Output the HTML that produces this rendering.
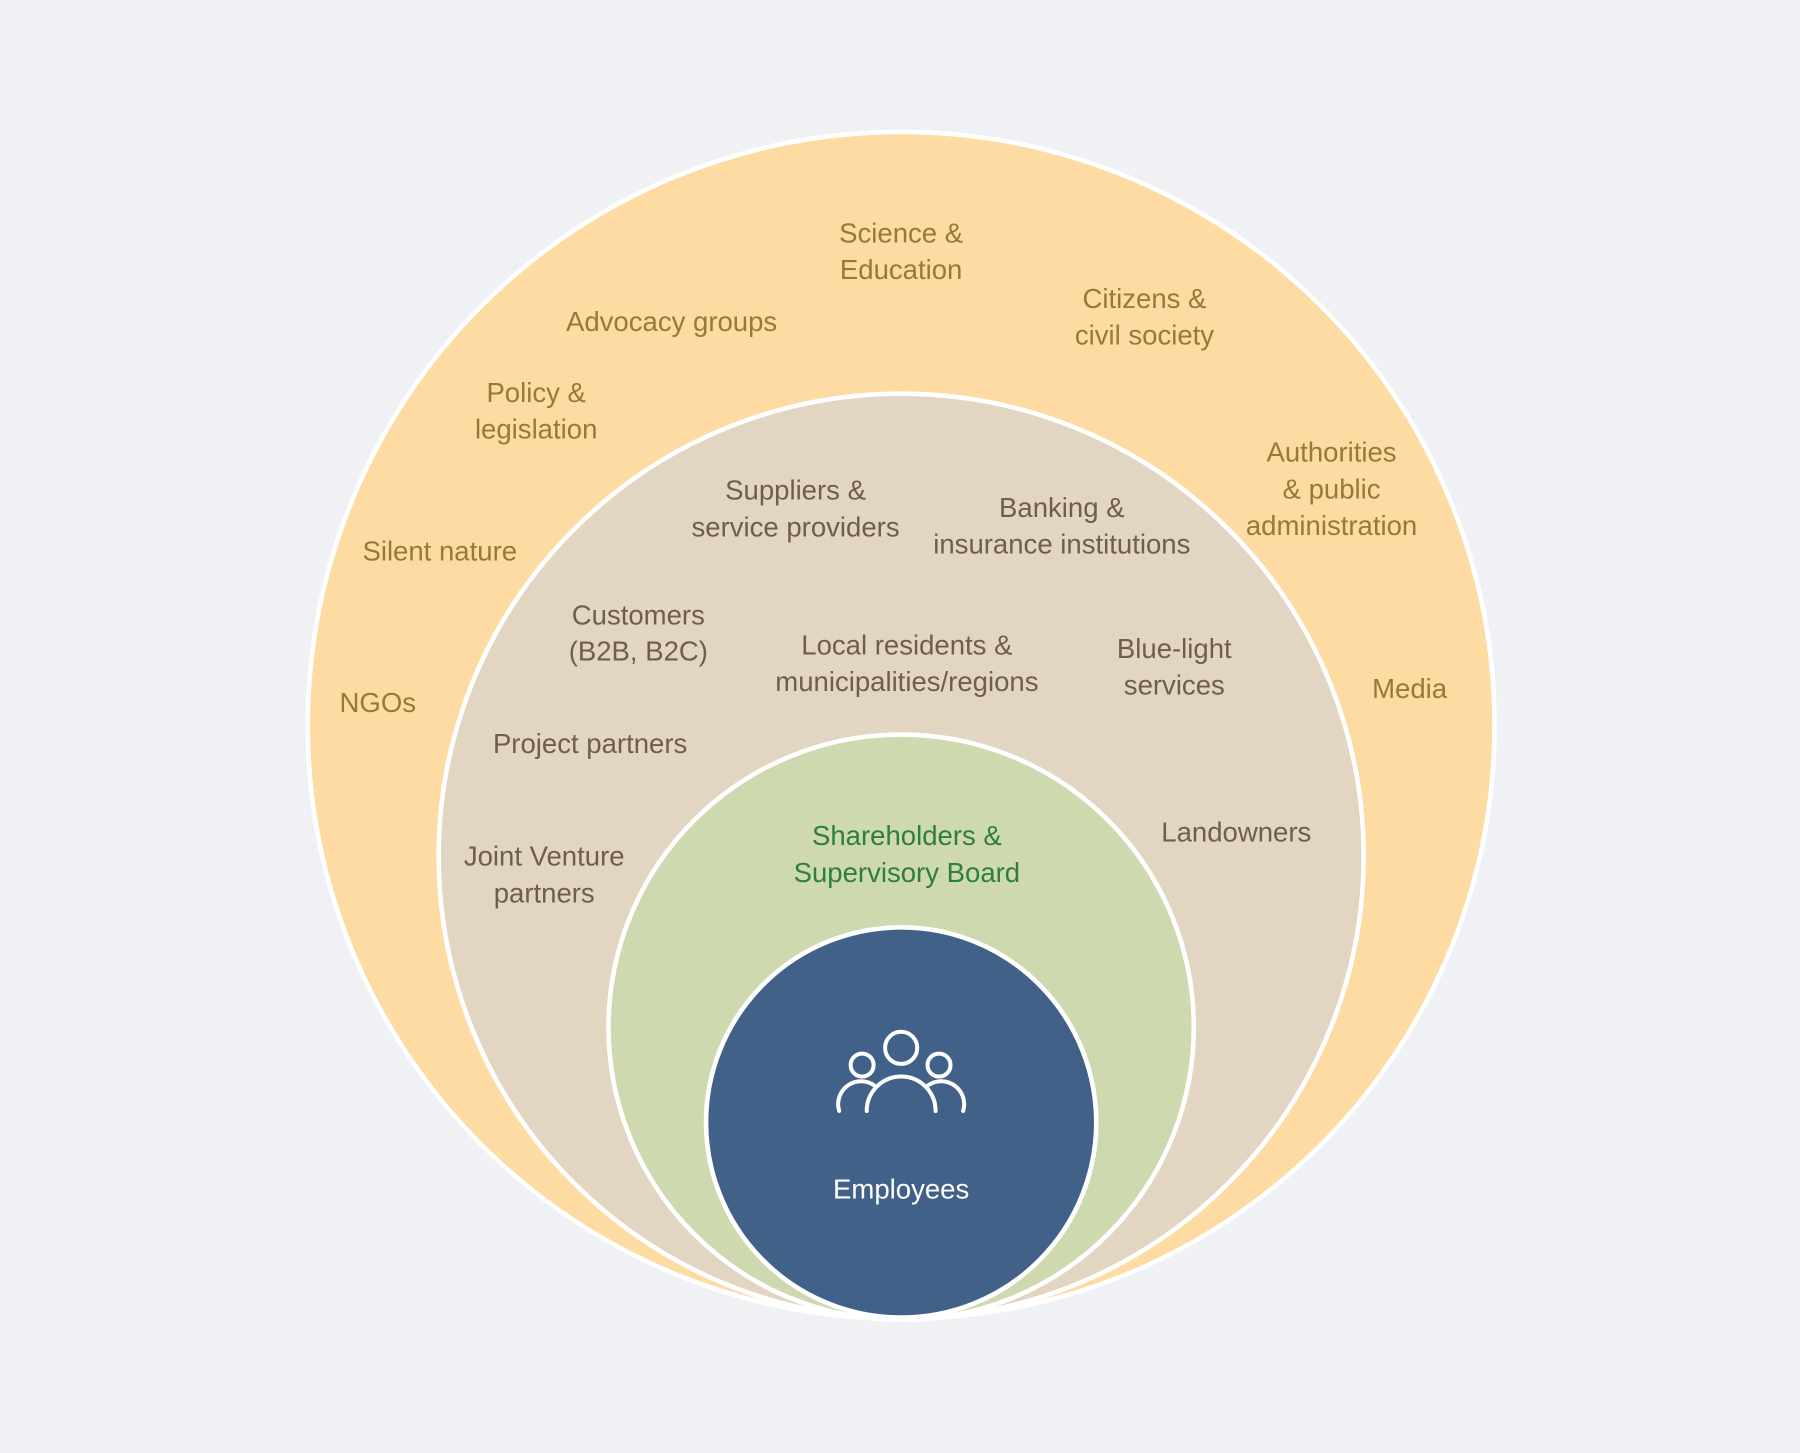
<!DOCTYPE html>
<html><head><meta charset="utf-8"><style>
html,body{margin:0;padding:0;background:#eff1f5;}
svg{display:block}
text{font-family:"Liberation Sans Narrow","Liberation Sans",sans-serif;font-size:24px;text-anchor:middle;dominant-baseline:central}
.o{fill:#9a7838}.m{fill:#6e5f48}.g{fill:#2f7f3c}.w{fill:#fff}
</style></head><body>
<svg width="1800" height="1453" viewBox="0 0 1568 1266" xmlns="http://www.w3.org/2000/svg">
<rect width="1568" height="1266" fill="#eff1f5"/>
<circle cx="785" cy="632" r="517" fill="#fddba3" stroke="#fff" stroke-width="4"/>
<circle cx="785" cy="746" r="403" fill="#e2d5c2" stroke="#fff" stroke-width="4"/>
<circle cx="785" cy="895" r="255" fill="#cfd9b0" stroke="#fff" stroke-width="4"/>
<circle cx="785" cy="978" r="170" fill="#416189" stroke="#fff" stroke-width="4"/>
<g class="o">
<text x="785" y="203">Science &amp;</text><text x="785" y="235">Education</text>
<text x="585" y="280">Advocacy groups</text>
<text x="997" y="260">Citizens &amp;</text><text x="997" y="292">civil society</text>
<text x="467" y="342">Policy &amp;</text><text x="467" y="374">legislation</text>
<text x="1160" y="394">Authorities</text><text x="1160" y="426">&amp; public</text><text x="1160" y="458">administration</text>
<text x="383" y="480">Silent nature</text>
<text x="329" y="612">NGOs</text>
<text x="1228" y="600">Media</text>
</g>
<g class="m">
<text x="693" y="427">Suppliers &amp;</text><text x="693" y="459">service providers</text>
<text x="925" y="442">Banking &amp;</text><text x="925" y="474">insurance institutions</text>
<text x="556" y="536">Customers</text><text x="556" y="567">(B2B, B2C)</text>
<text x="790" y="562">Local residents &amp;</text><text x="790" y="594">municipalities/regions</text>
<text x="1023" y="565">Blue-light</text><text x="1023" y="597">services</text>
<text x="514" y="648">Project partners</text>
<text x="1077" y="725">Landowners</text>
<text x="474" y="746">Joint Venture</text><text x="474" y="778">partners</text>
</g>
<g class="g"><text x="790" y="728">Shareholders &amp;</text><text x="790" y="760">Supervisory Board</text></g>
<text class="w" x="785" y="1036">Employees</text>
<g fill="none" stroke="#fff" stroke-width="3.5" stroke-linecap="round">
<circle cx="785" cy="913" r="14"/>
<circle cx="751" cy="928" r="10"/>
<circle cx="818" cy="928" r="10"/>
<path d="M755 968 A30 30 0 0 1 815 968"/>
<path d="M731 968 A20 20 0 0 1 762 946"/>
<path d="M839 968 A20 20 0 0 0 808 946"/>
</g>
</svg>
</body></html>
